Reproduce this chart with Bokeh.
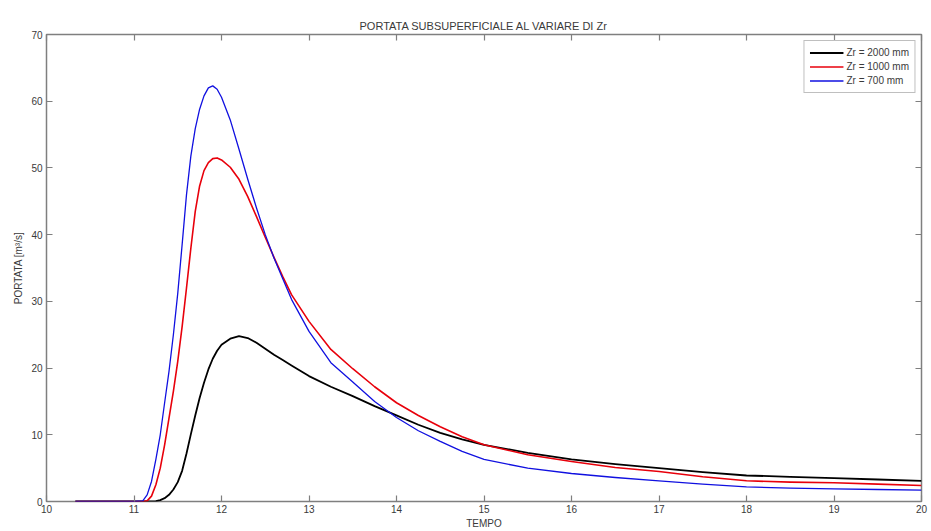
from bokeh.plotting import figure
from bokeh.models import (FixedTicker, LinearAxis, Legend, LegendItem,
                          CustomJSTickFormatter, Range1d)
from bokeh.embed import file_html
from bokeh.resources import INLINE

# Subsurface discharge hydrographs for three root-zone depths Zr
tempo = [10.33, 11.0, 11.1, 11.15, 11.2, 11.25, 11.3, 11.35, 11.4, 11.45,
         11.5, 11.55, 11.6, 11.65, 11.7, 11.75, 11.8, 11.85, 11.9, 11.95,
         12.0, 12.1, 12.2, 12.3, 12.4, 12.5, 12.6, 12.7, 12.8, 13.0,
         13.25, 13.5, 13.75, 14.0, 14.25, 14.5, 14.75, 15.0, 15.5, 16.0,
         16.5, 17.0, 17.5, 18.0, 18.5, 19.0, 19.5, 20.0]

q_zr2000 = [0.0, 0.0, 0.0, 0.0, 0.0, 0.05, 0.2, 0.5, 1.0, 1.8,
            2.9, 4.6, 7.2, 10.1, 12.9, 15.5, 17.8, 19.8, 21.4, 22.6,
            23.5, 24.4, 24.8, 24.5, 23.8, 22.9, 22.0, 21.2, 20.4, 18.8,
            17.2, 15.8, 14.3, 12.9, 11.5, 10.3, 9.3, 8.5, 7.3, 6.3,
            5.6, 5.0, 4.4, 3.9, 3.7, 3.5, 3.3, 3.1]

q_zr1000 = [0.0, 0.0, 0.0, 0.1, 0.8, 2.5, 5.0, 8.5, 12.5, 16.5,
            21.0, 26.2, 32.0, 38.0, 43.5, 47.3, 49.6, 50.8, 51.4, 51.5,
            51.2, 50.1, 48.3, 45.7, 42.7, 39.6, 36.6, 33.7, 31.0, 27.0,
            22.8, 19.9, 17.2, 14.8, 12.9, 11.2, 9.7, 8.5, 7.0, 6.0,
            5.1, 4.5, 3.7, 3.1, 2.9, 2.8, 2.6, 2.4]

q_zr700 = [0.0, 0.0, 0.1, 1.0, 3.0, 6.3, 10.0, 14.8, 19.5, 25.0,
           31.2, 38.5, 46.0, 51.8, 55.9, 58.8, 60.8, 62.0, 62.3, 61.8,
           60.6, 57.2, 52.8, 48.3, 44.0, 40.0, 36.5, 33.4, 30.3, 25.5,
           20.8, 17.9, 15.0, 12.6, 10.6, 9.0, 7.5, 6.3, 5.0, 4.2,
           3.6, 3.1, 2.6, 2.2, 2.0, 1.9, 1.8, 1.7]

series_labels = ["Zr = 2000 mm", "Zr = 1000 mm", "Zr = 700 mm"]
x_ticks = list(range(10, 21))
y_ticks = list(range(0, 71, 10))

FONT = "Liberation Sans"
FRAME = "#7f7f7f"
TXT = "#3a3a3a"

p = figure(width=931, height=531, output_backend="svg", toolbar_location=None,
           x_range=Range1d(10, 20), y_range=Range1d(0, 70),
           min_border_left=46, min_border_right=10,
           min_border_top=34, min_border_bottom=29,
           title="PORTATA SUBSUPERFICIALE AL VARIARE DI Zr")
p.background_fill_color = "white"
p.border_fill_color = "white"
p.outline_line_color = FRAME
p.outline_line_width = 1.5
p.grid.visible = False

p.title.align = "center"
p.title.text_font = FONT
p.title.text_font_style = "normal"
p.title.text_font_size = "11px"
p.title.text_color = TXT
p.title.offset = 0
p.title.standoff = 6


def style_axis(ax, ticks):
    ax.ticker = FixedTicker(ticks=ticks)
    ax.axis_line_color = None
    ax.major_tick_in = 6
    ax.major_tick_out = 0
    ax.major_tick_line_color = FRAME
    ax.major_tick_line_width = 1.2
    ax.minor_tick_line_color = None
    ax.major_label_text_font = FONT
    ax.major_label_text_font_size = "10px"
    ax.major_label_text_color = TXT
    ax.axis_label_text_font = FONT
    ax.axis_label_text_font_size = "10px"
    ax.axis_label_text_font_style = "normal"
    ax.axis_label_text_color = TXT


style_axis(p.xaxis[0], x_ticks)
style_axis(p.yaxis[0], y_ticks)
p.xaxis[0].axis_label = "TEMPO"
p.xaxis[0].axis_label_standoff = 2
p.xaxis[0].major_label_standoff = 3
p.yaxis[0].axis_label = "PORTATA [m³/s]"
p.yaxis[0].axis_label_standoff = 4
p.yaxis[0].major_label_standoff = 4

# mirrored tick marks on the top and right edges of the box
blank = CustomJSTickFormatter(code="return ''")
top_ax = LinearAxis(formatter=blank)
right_ax = LinearAxis(formatter=blank)
style_axis(top_ax, x_ticks)
style_axis(right_ax, y_ticks)
top_ax.major_label_standoff = 0
right_ax.major_label_standoff = 0
p.add_layout(top_ax, "above")
p.add_layout(right_ax, "right")

r_black = p.line(tempo, q_zr2000, line_color="#000000", line_width=1.8,
                 line_join="round")
r_red = p.line(tempo, q_zr1000, line_color="#e8000b", line_width=1.6,
               line_join="round")
r_blue = p.line(tempo, q_zr700, line_color="#1010e0", line_width=1.3,
                line_join="round")

legend = Legend(items=[LegendItem(label=series_labels[0], renderers=[r_black]),
                       LegendItem(label=series_labels[1], renderers=[r_red]),
                       LegendItem(label=series_labels[2], renderers=[r_blue])],
                location="top_right")
legend.margin = 6
legend.padding = 5
legend.spacing = 1
legend.label_height = 13
legend.glyph_height = 13
legend.glyph_width = 34
legend.label_standoff = 3
legend.label_text_font = FONT
legend.label_text_font_size = "10px"
legend.label_text_color = TXT
legend.border_line_color = FRAME
legend.border_line_width = 1
legend.background_fill_color = "white"
p.add_layout(legend)

open("out.html", "w").write(file_html(p, INLINE))
